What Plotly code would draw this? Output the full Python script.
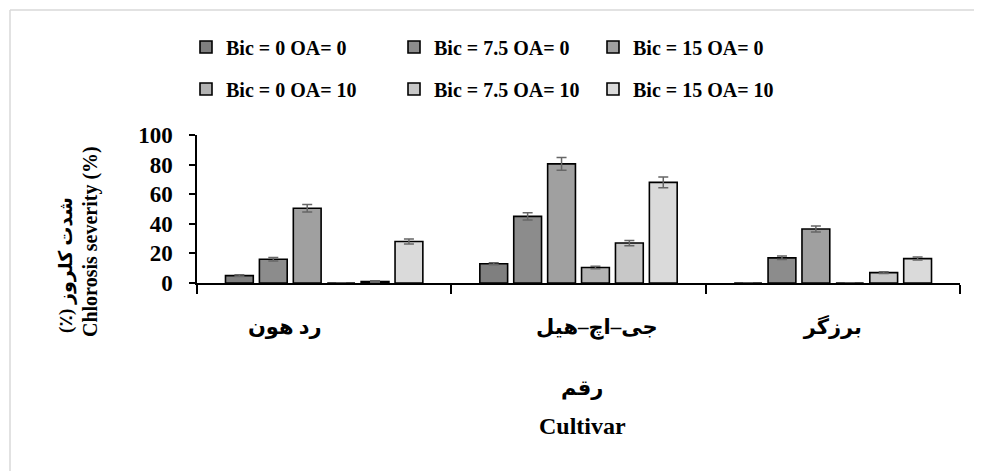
import plotly.graph_objects as go

cultivars = ["رد هون", "جی–اچ–هیل", "برزگر"]
series_names = ["Bic = 0 OA= 0", "Bic = 7.5 OA= 0", "Bic = 15 OA= 0",
                "Bic = 0 OA= 10", "Bic = 7.5 OA= 10", "Bic = 15 OA= 10"]
s1 = [5, 13, 0]
s2 = [16, 45, 17]
s3 = [50.5, 80.5, 36.5]
s4 = [0, 10.5, 0]
s5 = [1, 27, 7]
s6 = [28, 68, 16.5]
e1 = [0.6, 0.7, 0]
e2 = [1.2, 2.5, 1.2]
e3 = [2.6, 4.3, 2.0]
e4 = [0, 0.8, 0]
e5 = [0.5, 1.8, 0.6]
e6 = [1.7, 3.6, 1.0]
y_ticks = [0, 20, 40, 60, 80, 100]

values = [s1, s2, s3, s4, s5, s6]
errors = [e1, e2, e3, e4, e5, e6]
colors = ["#7f7f7f", "#8c8c8c", "#a0a0a0", "#b3b3b3", "#c8c8c8", "#dadada"]

FONT = "Liberation Serif, Times New Roman, DejaVu Sans, serif"
NB = "\u00a0"
# label text as displayed (spacing mimics the source layout)
tick_text = [cultivars[0] + NB * 15, NB * 7 + cultivars[1], cultivars[2]]

OFF = 8  # page offset of the figure
W, H = 982, 471
L = 197 - OFF
T = 135 - OFF
R = W - (960 - OFF)
B = H - (283 - OFF)
pw, ph = W - L - R, H - T - B


def px(x):
    return (x - OFF - L) / pw


def py(y):
    return (H - B - (y - OFF)) / ph


legend_x = [186, 394, 593]
legend_y = [47, 89]
legend_ids = ["legend", "legend2", "legend3", "legend4", "legend5", "legend6"]

fig = go.Figure()
for i in range(6):
    fig.add_trace(go.Bar(
        x=cultivars, y=values[i], name=series_names[i],
        marker=dict(color=colors[i], line=dict(color="black", width=1.6)),
        error_y=dict(type="data", array=errors[i], visible=True,
                     color="#666666", thickness=1.5, width=5),
        legend=legend_ids[i],
    ))

legends = {}
for i, lid in enumerate(legend_ids):
    legends[lid] = dict(
        orientation="h", xanchor="left", yanchor="middle",
        x=px(legend_x[i % 3]), y=py(legend_y[i // 3]),
        font=dict(family=FONT, size=20, color="black", weight="bold"),
        bgcolor="rgba(0,0,0,0)", itemclick=False,
    )

fig.update_layout(
    width=W, height=H,
    margin=dict(l=L, r=R, t=T, b=B),
    paper_bgcolor="white", plot_bgcolor="white",
    barmode="group", bargap=0.2, bargroupgap=0.18,
    font=dict(family=FONT, color="black"),
    xaxis=dict(
        type="category", showline=True, linecolor="black", linewidth=1.5,
        ticks="outside", tickson="boundaries", ticklen=9, tickwidth=1.5,
        tickcolor="black", showgrid=False,
        tickvals=cultivars, ticktext=tick_text,
        tickfont=dict(family=FONT, size=21, color="black", weight="bold"),
        ticklabelstandoff=24,
    ),
    yaxis=dict(
        range=[0, 100], tickvals=y_ticks, showline=True, linecolor="black",
        linewidth=1.5, ticks="outside", ticklen=6, tickwidth=1.5,
        tickcolor="black", showgrid=False, zeroline=False,
        tickfont=dict(family=FONT, size=23, color="black", weight="bold"),
        ticklabelstandoff=12,
    ),
    showlegend=True,
    **legends,
)

annotations = [
    dict(text="<b>رقم</b>", x=px(582), y=py(388), xref="paper", yref="paper",
         xanchor="center", yanchor="middle",
         showarrow=False, font=dict(family=FONT, size=21, color="black")),
    dict(text="<b>Cultivar</b>", x=px(582), y=py(426), xref="paper", yref="paper",
         xanchor="center", yanchor="middle",
         showarrow=False, font=dict(family=FONT, size=24, color="black")),
    dict(text="<b>Chlorosis severity (%)</b>", x=px(90), y=py(242), xref="paper",
         yref="paper", showarrow=False, textangle=-90,
         xanchor="center", yanchor="middle",
         font=dict(family=FONT, size=20, color="black")),
    dict(text="<b>(٪) شدت کلروز</b>", x=px(66), y=py(265), xref="paper",
         yref="paper", showarrow=False, textangle=-90,
         xanchor="center", yanchor="middle",
         font=dict(family=FONT, size=19, color="black")),
]
fig.update_layout(annotations=annotations)

fig.add_shape(type="line", xref="paper", yref="paper", x0=px(10), x1=px(995),
              y0=py(10), y1=py(10), line=dict(color="#d9d9d9", width=1.5))
fig.add_shape(type="line", xref="paper", yref="paper", x0=px(10), x1=px(10),
              y0=py(10), y1=py(490), line=dict(color="#d9d9d9", width=1.5))

fig.write_html("out.html")
